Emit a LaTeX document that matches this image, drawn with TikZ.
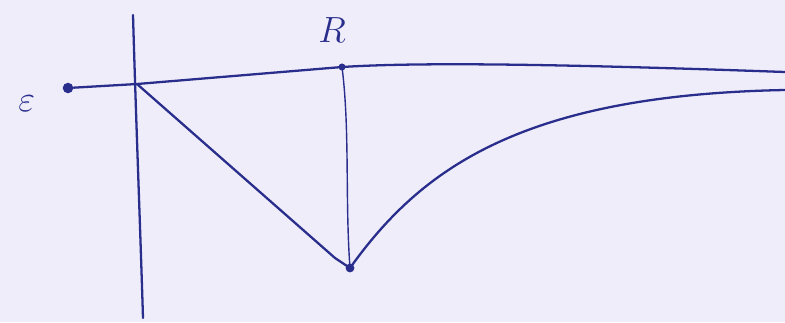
\documentclass[tikz,border=0pt]{standalone}
\usetikzlibrary{positioning}
\definecolor{inkblue}{rgb}{0.16,0.18,0.55}
\definecolor{paper}{rgb}{0.94,0.93,0.98}

\begin{document}
\begin{tikzpicture}[
  x=0.02cm, y=-0.02cm,
  every node/.style={font=\huge, text=inkblue},
  ink/.style={draw=inkblue, line width=1.3pt, line cap=round, line join=round},
  thinink/.style={draw=inkblue, line width=0.8pt, line cap=round},
  inkdot/.style={circle, fill=inkblue, inner sep=0pt, minimum size=6pt},
]

% ---- paper ----
\fill[paper] (0,0) rectangle (785,322);
\useasboundingbox (0,0) rectangle (785,322);

% ---- points ----
\node[inkdot] (e)  at (68,88)   {};
\coordinate   (o)  at (137,84);
\node[inkdot, minimum size=4pt] (r)  at (342,67) {};
\node[inkdot, minimum size=5pt] (m)  at (350,268) {};
\coordinate   (top) at (133,15);
\coordinate   (bot) at (143,318);
\coordinate   (far) at (785,72);
\coordinate   (tail) at (785,90);

% ---- labels ----
\node[left=12pt of e, yshift=-9pt] (elab) {$\varepsilon$};
\node (rlab) at (332,30) {$R$};

% ---- axis and upper line ----
\draw[ink] (top) .. controls (136,120) and (140,220) .. (bot);
\draw[ink] (e) -- (o) -- (r.center) .. controls (420,62) and (560,64) .. (far);

% ---- lower curve ----
\draw[ink] (o) -- (335,258) -- (m.center);
\draw[ink] (m.center) .. controls (420,170) and (520,95) .. (tail);

% ---- drop from R ----
\draw[thinink] (r.center) .. controls (350,130) and (345,200) .. (m.center);

\end{tikzpicture}
\end{document}
